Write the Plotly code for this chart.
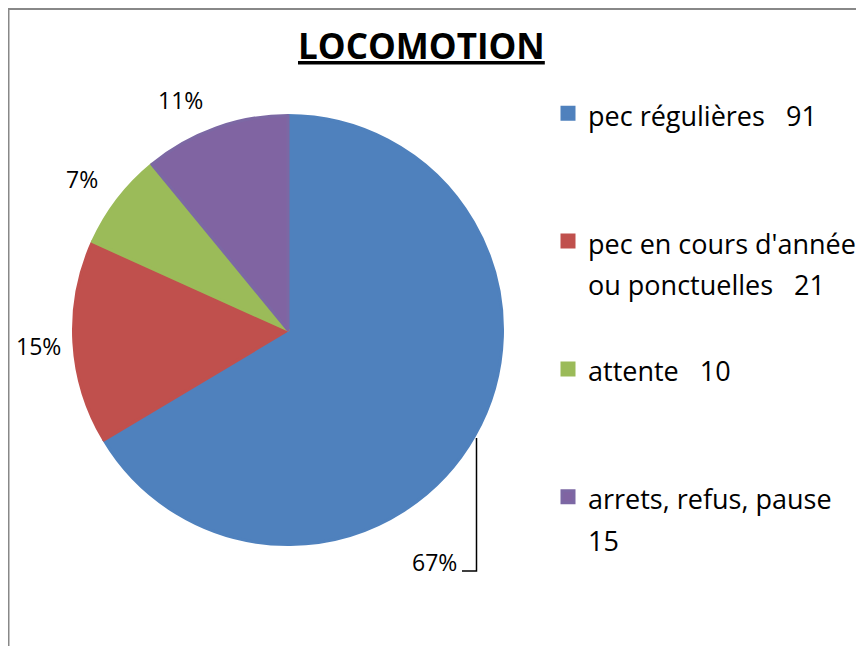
import plotly.graph_objects as go

# ---- data ----
categories = ["pec régulières", "pec en cours d'année ou ponctuelles", "attente", "arrets, refus, pause"]
values = [91, 21, 10, 15]
pct_labels = ["67%", "15%", "7%", "11%"]
title_text = "LOCOMOTION"

# ---- style ----
colors = ["#4F81BD", "#C0504D", "#9BBB59", "#8064A2"]
line_colors = ["#4F81BD", "#C0504D", "#9BBB59", "#7C68A4"]
FONT = "Open Sans"
W, H = 864, 646
PAGE_OFF = 8  # default body margin of the html page


def px(x):
    return (x - PAGE_OFF) / W


def py(y):
    return 1 - (y - PAGE_OFF) / H


def wrap_entry(name, val, width=20, nlines=3):
    words = name.split(" ") + [str(val)]
    lines, cur = [], ""
    for i, w in enumerate(words):
        sep = "   " if i == len(words) - 1 else " "
        cand = w if not cur else cur + sep + w
        if len(cand) <= width:
            cur = cand
        else:
            lines.append(cur)
            cur = w
    lines.append(cur)
    lines = [l.replace("   ", "&nbsp;&nbsp;&nbsp;") for l in lines]
    spans = ['<span style="font-size:27px">%s</span>' % l for l in lines]
    while len(spans) < nlines:
        spans.append("&nbsp;")
    return "<br>".join(spans)


legend_labels = [wrap_entry(c, v) for c, v in zip(categories, values)]

# label positions (pixel centres) as placed in the reference
label_pos = [(434, 562), (38, 346), (82, 179), (180, 100)]

fig = go.Figure(
    go.Pie(
        labels=legend_labels,
        values=values,
        sort=False,
        direction="clockwise",
        rotation=0,
        textinfo="none",
        marker=dict(colors=colors, line=dict(color=line_colors, width=3)),
        domain=dict(x=[px(73.5), px(502.5)], y=[py(544.5), py(115.5)]),
        hovertemplate="%{value} (%{percent})<extra></extra>",
    )
)

annotations = [
    dict(
        text="<b><u>%s</u></b>" % title_text,
        x=px(421.5), y=py(45), xref="paper", yref="paper",
        xanchor="center", yanchor="middle", showarrow=False,
        font=dict(family=FONT, size=35, color="black"),
    )
]
for lab, (lx, ly) in zip(pct_labels, label_pos):
    annotations.append(
        dict(
            text=lab, x=px(lx), y=py(ly), xref="paper", yref="paper",
            xanchor="center", yanchor="middle", showarrow=False,
            font=dict(family=FONT, size=23, color="black"),
        )
    )

shapes = [
    dict(type="rect", xref="paper", yref="paper", x0=px(8.5), y0=py(9), x1=1.3, y1=-0.3,
         line=dict(color="#888888", width=2), fillcolor="rgba(0,0,0,0)", layer="below"),
    dict(type="path", xref="paper", yref="paper",
         path="M %f,%f L %f,%f L %f,%f" % (px(462), py(571), px(476.5), py(571), px(476.5), py(438)),
         line=dict(color="black", width=1.5)),
]

fig.update_layout(
    width=W, height=H,
    margin=dict(l=0, r=0, t=0, b=0, autoexpand=False),
    paper_bgcolor="white", plot_bgcolor="white",
    font=dict(family=FONT, color="black"),
    showlegend=True,
    legend=dict(
        x=px(548), y=py(86), xanchor="left", yanchor="top",
        font=dict(family=FONT, size=32, color="black"),
        valign="top", bgcolor="rgba(0,0,0,0)", borderwidth=0,
    ),
    annotations=annotations,
    shapes=shapes,
)

fig.write_html("out.html")
